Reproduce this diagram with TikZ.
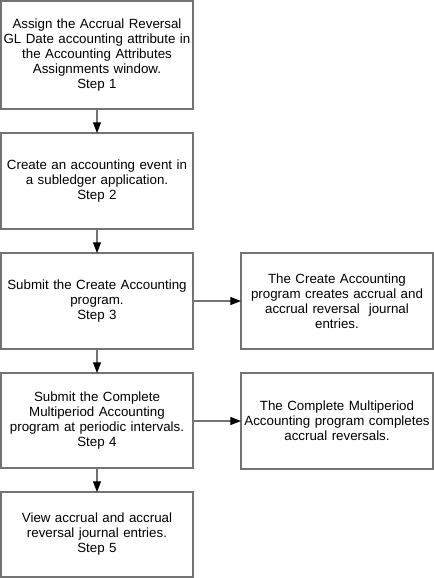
\documentclass[tikz,border=0pt]{standalone}
\usepackage{fontspec}
\setmainfont{Liberation Sans}
\usetikzlibrary{arrows.meta}

\tikzset{
	stepbox/.style={draw=black!55, line width=0.8pt, minimum width=144pt, text width=142pt, align=center, inner sep=1pt, outer sep=0pt, font=\fontsize{10}{11.25}\selectfont},
	flow/.style={draw=black!55, line width=0.8pt, -{Triangle[black,length=8pt,width=6pt]}}
}

\begin{document}
\begin{tikzpicture}[x=0.75pt,y=-0.75pt]
			\useasboundingbox (0,0) rectangle (434,578);
			\node[stepbox, minimum height=81pt] (s1) at (97,55) {Assign the Accrual Reversal\\GL Date accounting attribute in\\the Accounting Attributes\\Assignments window.\\Step 1};
			\node[stepbox, minimum height=72pt] (s2) at (97,181) {Create an accounting event in\\a subledger application.\\Step 2};
			\node[stepbox, minimum height=72pt] (s3) at (97,301) {Submit the Create Accounting\\program.\\Step 3};
			\node[stepbox, minimum height=71.25pt] (s4) at (97,420.5) {Submit the Complete\\Multiperiod Accounting\\program at periodic intervals.\\Step 4};
			\node[stepbox, minimum height=63.75pt] (s5) at (97,534.5) {View accrual and accrual\\reversal journal entries.\\Step 5};
			\node[stepbox, minimum height=72pt] (r3) at (337,301) {The Create Accounting\\program creates accrual and\\accrual reversal~ journal\\entries.};
			\node[stepbox, minimum height=72pt] (r4) at (337,421) {The Complete Multiperiod\\Accounting program completes\\accrual reversals.};
			\draw[flow] (s1) -- (s2);
			\draw[flow] (s2) -- (s3);
			\draw[flow] (s3) -- (s4);
			\draw[flow] (s4) -- (s5);
			\draw[flow] (s3) -- (r3);
			\draw[flow] (s4.east |- r4) -- (r4);
		\end{tikzpicture}
\end{document}
